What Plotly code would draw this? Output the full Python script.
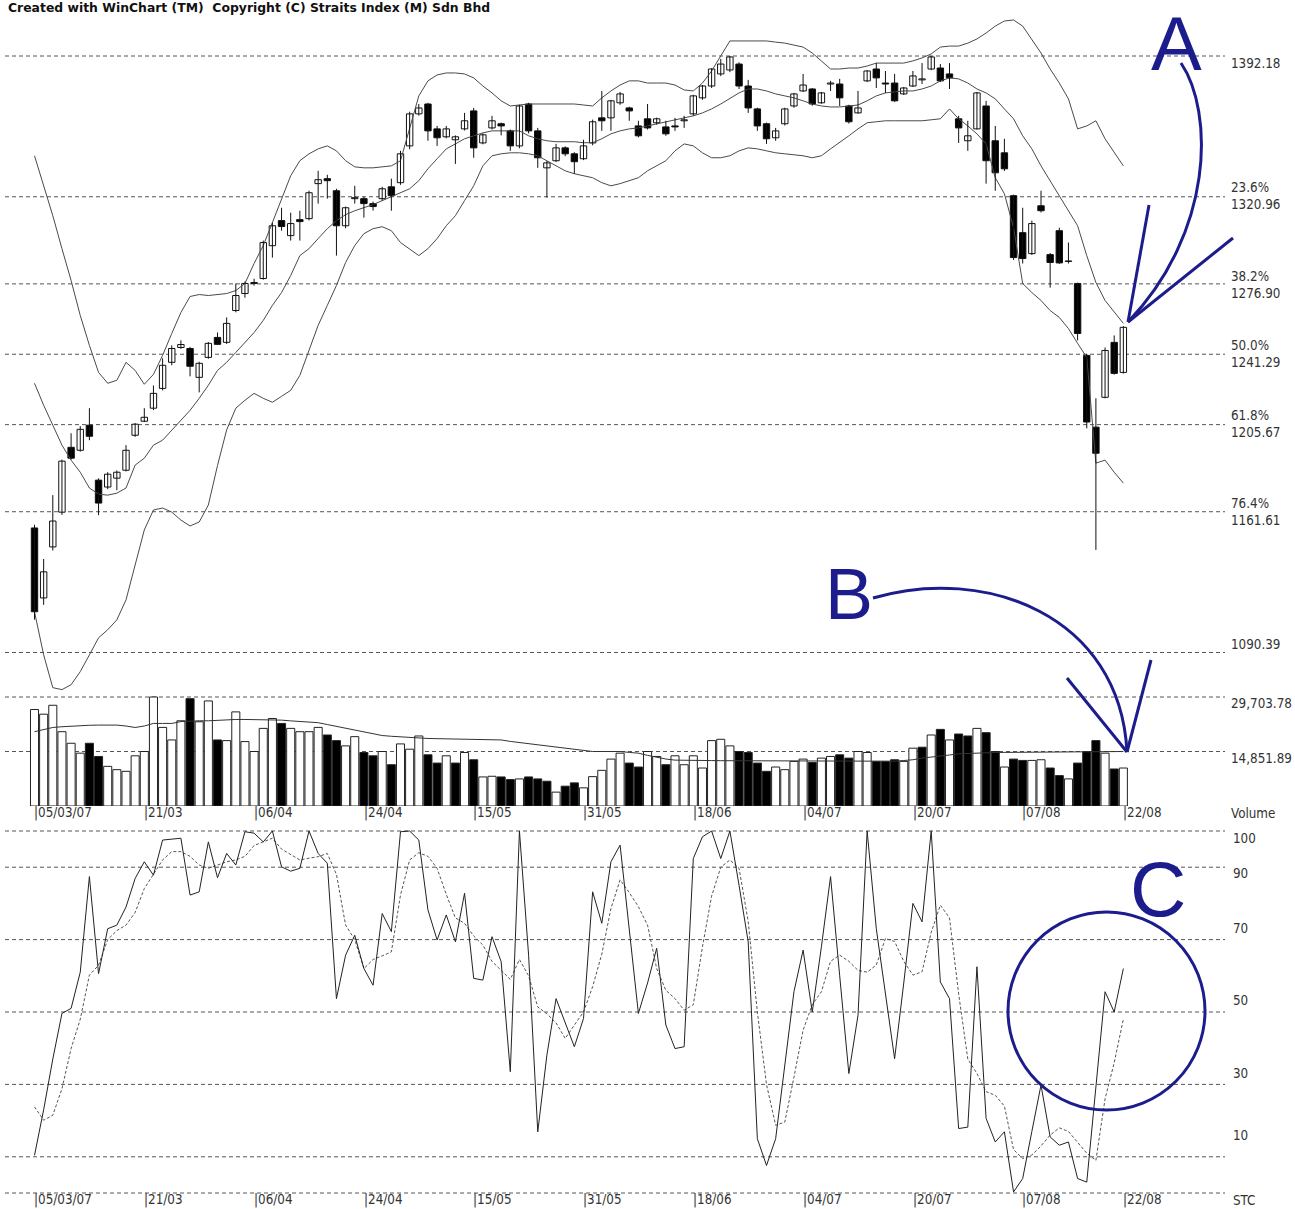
import plotly.graph_objects as go

# ---------------- DATA ----------------
date_idx = [0, 12, 24, 36, 48, 60, 72, 84, 96, 108, 119]
date_labels = ["|05/03/07", "|21/03", "|06/04", "|24/04", "|15/05", "|31/05",
               "|18/06", "|04/07", "|20/07", "|07/08", "|22/08"]

opens = [1153.4, 1118.0, 1143.8, 1161.4, 1194.2, 1192.7, 1205.4, 1177.6, 1174.1, 1178.6,
         1182.6, 1200.3, 1207.4, 1214.0, 1224.0, 1237.2, 1244.7, 1244.2, 1229.6, 1239.7,
         1249.8, 1247.3, 1263.4, 1272.0, 1277.1, 1279.6, 1296.2, 1308.9, 1301.3, 1309.4,
         1309.9, 1327.6, 1330.1, 1324.0, 1306.3, 1320.0, 1320.0, 1317.5, 1320.0, 1326.0,
         1328.1, 1346.7, 1362.9, 1367.9, 1355.3, 1351.3, 1349.8, 1355.3, 1364.4, 1348.2,
         1355.8, 1357.9, 1354.3, 1346.7, 1367.9, 1354.3, 1335.6, 1339.2, 1345.7, 1342.7,
         1340.2, 1348.2, 1360.9, 1360.9, 1368.5, 1365.9, 1356.8, 1360.4, 1358.4, 1356.3,
         1356.8, 1359.4, 1362.9, 1371.0, 1377.0, 1383.1, 1385.1, 1388.1, 1377.0, 1365.4,
         1357.9, 1350.8, 1357.9, 1366.9, 1374.5, 1375.5, 1368.5, 1378.0, 1378.0, 1366.9,
         1363.4, 1379.6, 1385.6, 1378.5, 1378.5, 1373.0, 1377.0, 1380.1, 1385.6, 1386.1,
         1383.1, 1360.4, 1349.3, 1355.3, 1366.9, 1349.3, 1343.2, 1321.5, 1302.8, 1292.2,
         1316.4, 1291.7, 1303.8, 1288.2, 1277.1, 1240.7, 1204.4, 1219.5, 1247.3, 1232.1]
highs = [1155.0, 1137.7, 1170.0, 1188.0, 1201.3, 1204.9, 1214.0, 1178.5, 1181.6, 1182.5,
         1195.3, 1206.5, 1214.0, 1225.5, 1239.2, 1245.8, 1248.3, 1245.0, 1237.5, 1247.5,
         1252.3, 1259.9, 1277.1, 1278.1, 1279.5, 1298.8, 1307.9, 1315.4, 1312.9, 1313.9,
         1324.0, 1334.1, 1332.1, 1325.0, 1316.0, 1326.5, 1321.0, 1318.5, 1326.0, 1330.1,
         1344.2, 1364.0, 1367.9, 1368.5, 1356.8, 1356.8, 1352.0, 1363.4, 1365.9, 1353.0,
         1361.9, 1358.5, 1355.0, 1367.5, 1368.5, 1355.8, 1339.0, 1347.7, 1346.5, 1343.5,
         1349.8, 1360.0, 1374.5, 1370.0, 1374.0, 1366.5, 1359.4, 1367.9, 1361.0, 1359.4,
         1360.9, 1361.9, 1372.5, 1377.5, 1386.0, 1390.7, 1392.2, 1389.0, 1380.1, 1366.0,
         1358.5, 1355.8, 1366.0, 1373.5, 1383.1, 1376.0, 1374.0, 1379.6, 1380.6, 1367.5,
         1374.5, 1385.0, 1388.6, 1384.6, 1383.1, 1376.5, 1384.6, 1388.6, 1392.2, 1388.1,
         1388.6, 1361.9, 1359.4, 1374.0, 1369.5, 1356.8, 1350.3, 1322.0, 1315.4, 1308.9,
         1324.0, 1292.5, 1305.3, 1297.8, 1277.5, 1241.5, 1219.0, 1244.7, 1250.8, 1255.5]
lows = [1107.0, 1114.5, 1142.0, 1160.0, 1188.0, 1192.0, 1197.8, 1159.9, 1173.0, 1172.5,
        1182.0, 1199.5, 1207.0, 1213.0, 1223.0, 1235.7, 1244.0, 1230.1, 1222.0, 1239.0,
        1246.0, 1246.5, 1262.5, 1269.9, 1276.0, 1279.0, 1290.2, 1303.8, 1298.8, 1298.8,
        1309.0, 1317.5, 1320.0, 1291.2, 1305.0, 1317.5, 1310.4, 1314.0, 1319.0, 1313.9,
        1327.0, 1345.0, 1362.0, 1349.3, 1346.7, 1350.5, 1337.6, 1354.5, 1340.7, 1347.5,
        1355.0, 1352.0, 1344.2, 1345.5, 1353.0, 1335.6, 1320.5, 1338.5, 1341.5, 1332.6,
        1339.5, 1347.0, 1354.3, 1354.3, 1367.5, 1359.4, 1351.0, 1355.0, 1357.5, 1351.8,
        1354.3, 1355.8, 1362.0, 1370.0, 1376.0, 1382.0, 1384.0, 1375.5, 1363.4, 1354.3,
        1347.7, 1349.3, 1357.0, 1366.0, 1374.0, 1367.0, 1368.0, 1374.5, 1366.9, 1358.0,
        1363.0, 1379.0, 1376.0, 1373.5, 1369.0, 1372.5, 1376.5, 1378.0, 1385.0, 1379.0,
        1375.5, 1348.2, 1344.2, 1355.0, 1327.6, 1324.0, 1334.0, 1289.0, 1287.2, 1291.5,
        1313.0, 1275.0, 1287.0, 1287.2, 1248.3, 1203.8, 1142.3, 1219.0, 1231.0, 1231.5]
closes = [1111.0, 1131.2, 1156.9, 1187.2, 1188.7, 1203.3, 1199.8, 1166.0, 1180.6, 1181.6,
          1192.7, 1205.9, 1209.4, 1221.5, 1235.7, 1244.2, 1246.2, 1235.2, 1236.7, 1246.8,
          1246.3, 1256.9, 1271.0, 1277.1, 1277.6, 1297.8, 1306.3, 1305.9, 1307.4, 1308.4,
          1323.0, 1329.6, 1329.1, 1306.3, 1315.4, 1320.5, 1317.5, 1316.0, 1325.0, 1321.5,
          1342.7, 1362.9, 1365.9, 1354.3, 1350.8, 1355.3, 1351.3, 1359.4, 1345.7, 1352.3,
          1359.4, 1356.8, 1346.7, 1366.9, 1354.3, 1340.7, 1338.1, 1345.7, 1342.7, 1338.7,
          1346.7, 1358.9, 1359.4, 1369.5, 1373.0, 1364.4, 1351.8, 1355.8, 1360.4, 1352.8,
          1356.3, 1359.9, 1372.0, 1377.0, 1385.6, 1388.1, 1391.7, 1377.0, 1365.9, 1356.8,
          1350.3, 1354.3, 1365.4, 1373.0, 1377.5, 1367.9, 1373.5, 1378.5, 1371.0, 1358.9,
          1365.9, 1384.6, 1381.1, 1378.0, 1369.5, 1376.0, 1382.1, 1380.6, 1391.7, 1379.6,
          1381.1, 1355.8, 1351.8, 1373.5, 1339.2, 1333.1, 1335.1, 1290.2, 1289.7, 1307.4,
          1313.9, 1287.7, 1287.5, 1288.5, 1251.8, 1207.0, 1191.2, 1243.2, 1231.6, 1254.9]

bb_upper = [1341.7, 1326.5, 1311.4, 1294.7, 1278.6, 1260.9, 1245.8, 1232.1, 1226.6, 1228.1,
            1237.2, 1233.1, 1226.1, 1231.1, 1240.7, 1251.8, 1262.4, 1270.5, 1271.5, 1271.0,
            1271.5, 1272.0, 1273.5, 1277.1, 1287.2, 1296.3, 1307.9, 1320.0, 1331.6, 1339.2,
            1342.7, 1345.2, 1346.7, 1344.2, 1339.2, 1336.1, 1335.6, 1335.6, 1336.1, 1336.6,
            1339.2, 1355.3, 1372.0, 1379.6, 1382.6, 1383.6, 1383.6, 1383.1, 1381.1, 1377.0,
            1373.5, 1369.5, 1366.9, 1367.4, 1367.9, 1367.9, 1367.9, 1367.9, 1367.9, 1367.9,
            1367.4, 1366.9, 1371.0, 1374.5, 1377.5, 1379.6, 1379.6, 1378.5, 1378.5, 1378.5,
            1377.5, 1375.0, 1374.5, 1378.5, 1384.6, 1392.2, 1399.8, 1399.8, 1399.8, 1399.8,
            1399.8, 1399.2, 1398.7, 1397.7, 1396.7, 1393.7, 1389.7, 1385.6, 1385.6, 1386.1,
            1386.1, 1387.1, 1388.6, 1388.6, 1388.6, 1388.6, 1389.7, 1391.2, 1393.2, 1396.7,
            1397.2, 1397.2, 1398.7, 1400.8, 1403.8, 1407.3, 1409.9, 1410.4, 1407.3, 1400.8,
            1393.7, 1385.6, 1378.5, 1370.5, 1355.3, 1356.8, 1359.4, 1350.3, 1343.2, 1336.6]
bb_middle = [1226.6, 1215.5, 1205.4, 1195.3, 1187.7, 1181.6, 1173.6, 1170.5, 1170.0, 1171.0,
             1173.6, 1185.2, 1188.7, 1195.3, 1197.8, 1202.8, 1207.9, 1212.9, 1219.0, 1225.6,
             1233.1, 1237.2, 1242.2, 1247.3, 1252.3, 1258.4, 1266.0, 1272.5, 1281.1, 1291.2,
             1294.7, 1299.8, 1304.8, 1308.9, 1311.9, 1313.9, 1315.4, 1317.0, 1319.0, 1321.0,
             1323.0, 1325.0, 1329.1, 1335.1, 1340.2, 1345.2, 1347.7, 1350.3, 1351.8, 1353.3,
             1354.3, 1354.3, 1354.3, 1354.3, 1351.8, 1350.3, 1349.3, 1348.8, 1348.8, 1348.8,
             1348.3, 1348.3, 1350.3, 1352.8, 1354.3, 1355.3, 1355.8, 1356.8, 1357.9, 1358.9,
             1359.9, 1360.9, 1361.9, 1363.4, 1365.4, 1367.9, 1370.5, 1373.5, 1375.5, 1375.5,
             1374.5, 1373.0, 1372.0, 1371.0, 1369.5, 1367.9, 1366.9, 1366.4, 1366.4, 1366.9,
             1367.4, 1369.5, 1372.0, 1373.5, 1374.0, 1374.5, 1374.5, 1375.5, 1377.0, 1379.6,
             1381.1, 1380.6, 1378.5, 1375.5, 1373.5, 1370.5, 1365.4, 1360.4, 1351.8, 1345.2,
             1336.6, 1329.1, 1321.5, 1313.9, 1306.3, 1291.2, 1277.6, 1268.5, 1262.4, 1256.9]
bb_lower = [1111.0, 1089.2, 1072.6, 1071.6, 1074.1, 1080.7, 1089.2, 1097.8, 1101.9, 1106.9,
            1117.0, 1134.7, 1152.4, 1162.5, 1163.5, 1161.4, 1157.4, 1154.4, 1156.4, 1165.0,
            1185.0, 1203.0, 1214.0, 1218.0, 1221.5, 1219.0, 1217.0, 1220.0, 1223.0, 1230.6,
            1243.2, 1255.9, 1266.0, 1276.1, 1287.7, 1296.3, 1302.3, 1304.8, 1305.8, 1303.8,
            1297.8, 1294.7, 1291.2, 1294.7, 1299.8, 1306.3, 1311.4, 1319.0, 1326.5, 1336.6,
            1341.7, 1342.7, 1343.2, 1343.2, 1342.7, 1341.7, 1339.2, 1336.6, 1334.1, 1332.6,
            1331.6, 1330.6, 1328.1, 1326.5, 1327.6, 1329.1, 1330.6, 1334.1, 1336.6, 1339.2,
            1344.2, 1347.7, 1346.7, 1343.2, 1340.7, 1340.7, 1341.7, 1344.2, 1345.7, 1345.2,
            1344.2, 1343.2, 1342.7, 1342.2, 1341.7, 1340.7, 1341.7, 1345.2, 1348.3, 1351.8,
            1355.3, 1358.4, 1358.9, 1359.4, 1359.4, 1359.4, 1359.4, 1359.4, 1359.9, 1360.4,
            1365.4, 1360.4, 1356.8, 1352.8, 1347.7, 1330.6, 1322.5, 1305.3, 1277.1, 1272.5,
            1268.5, 1263.4, 1259.9, 1254.3, 1246.8, 1239.7, 1186.2, 1187.7, 1181.6, 1176.1]

volume = [26290, 25020, 27450, 20250, 17100, 14400, 17100, 13500, 10800, 9900,
          9450, 13680, 14850, 29700, 21420, 18000, 23220, 29250, 22950, 28630,
          18000, 17820, 25650, 17550, 14850, 21150, 23850, 22500, 21150, 20250,
          20250, 21420, 19350, 17820, 16380, 18900, 14580, 13680, 14850, 11250,
          16920, 15480, 19080, 13950, 11700, 13680, 11700, 14580, 12600, 7920,
          8100, 7920, 7200, 7380, 7920, 7380, 6750, 3780, 5400, 6300,
          4950, 8000, 9720, 12780, 14400, 11700, 10620, 14850, 13500, 11250,
          13680, 11250, 13680, 10350, 17820, 18180, 16380, 14850, 14580, 11700,
          9450, 10620, 9900, 12150, 12780, 11880, 13050, 13500, 13950, 13050,
          14850, 14580, 12150, 12150, 12600, 12150, 15750, 16020, 19350, 20880,
          18000, 19620, 19080, 21150, 19980, 14850, 10620, 12780, 12420, 12420,
          12600, 10350, 8280, 7380, 11700, 14850, 17820, 14400, 10080, 10350]
volume_ma = [20250, 20800, 21400, 21600, 21800, 22000, 22000, 22050, 22050, 22050,
             21800, 21400, 21800, 22500, 22500, 22500, 23000, 23200, 23220, 23220,
             23400, 23500, 23580, 23580, 23580, 23580, 23580, 23400, 23200, 23000,
             22950, 22700, 22200, 21700, 21200, 20600, 20000, 19600, 19200, 19000,
             18800, 18600, 18450, 18400, 18350, 18300, 18250, 18200, 18150, 18100,
             18050, 18000, 17600, 17280, 17000, 16700, 16400, 16020, 15700, 15400,
             15000, 14850, 14850, 14850, 14850, 14600, 14400, 13800, 13200, 12800,
             12500, 12420, 12400, 12400, 12380, 12350, 12350, 12350, 12300, 12300,
             12300, 12250, 12250, 12250, 12200, 12200, 12200, 12200, 12150, 12150,
             12150, 12150, 12150, 12150, 12200, 12400, 12600, 13050, 13300, 13500,
             13900, 14220, 14350, 14450, 14550, 14580, 14600, 14620, 14640, 14660,
             14680, 14700, 14720, 14740, 14760, 14780, 14800, 14820, 14840, 14850]

stc_k = [10.4, 23, 37, 49.6, 51, 61, 87.4, 60.6, 73, 74,
         79, 86.9, 91.5, 87.8, 97.5, 97.8, 98, 82.3, 83.2, 97,
         87.1, 93.8, 90.6, 99.8, 99.4, 97, 100, 90.1, 88.9, 89.7,
         100, 93.8, 91.1, 53.7, 65.7, 71.2, 62, 57.4, 77.2, 72.2,
         99.8, 100, 97.5, 78.2, 69.9, 76.8, 69.4, 82.8, 59.3, 58.8,
         70.8, 63.9, 33.5, 100, 65.7, 16.9, 38.1, 53.7, 47, 40.4,
         48.2, 83.2, 74.5, 91.5, 96.1, 72, 49.6, 58, 67.6, 46.4,
         39.9, 40.4, 92.4, 98.4, 100, 92.4, 100, 85, 69.4, 15,
         7.6, 15, 35, 55.6, 67.1, 50, 68, 87.4, 60, 33,
         49.1, 100, 73, 55, 37.1, 58, 80, 74.9, 100, 58.3,
         53.7, 17.8, 18.2, 62.5, 20.6, 14.1, 16.9, 0.3, 4, 17,
         29.8, 15.5, 13.2, 14.1, 4, 3, 30, 55.6, 50, 62]
stc_d = [23.8, 20.1, 21.5, 28.8, 39.9, 48, 60.2, 62.9, 70, 72.5,
         74, 77.5, 84.1, 88, 92, 94.3, 94.3, 93, 90.6, 89.7,
         90.5, 91.5, 92, 93, 96, 97, 98, 95, 93.5, 92,
         92.5, 92.9, 93.8, 88, 74, 70, 62, 64.5, 65.5, 66.6,
         82.3, 92, 94, 93, 89.7, 82.5, 76, 74.5, 71, 68.5,
         64, 61.5, 59, 64.5, 60, 51.4, 49.5, 47, 42.7, 46.4,
         50, 57, 66, 78.6, 86.5, 83, 79.1, 74, 62, 56,
         53.7, 50.5, 52, 68, 82, 90, 92, 89.7, 75, 50,
         30, 18.7, 19.6, 32, 45, 52, 55.6, 64, 65.7, 64,
         61.5, 61, 63, 70.3, 69.5, 64, 60.2, 61.1, 72, 79.5,
         76, 55, 37, 33, 28, 27, 24, 12, 9.5, 10.5,
         13, 16, 18, 17, 14, 11, 9, 26, 36, 48]

fib_levels = [1392.18, 1320.96, 1276.90, 1241.29, 1205.67, 1161.61, 1090.39]
fib_pct = ["", "23.6%", "38.2%", "50.0%", "61.8%", "76.4%", ""]
vol_levels = [29703.78, 14851.89]
vol_level_labels = ["29,703.78", "14,851.89"]
stc_levels = [100, 90, 70, 50, 30, 10, 0]
stc_tick_labels = ["100", "90", "70", "50", "30", "10"]

# ---------------- LAYOUT GEOMETRY ----------------
W, H = 1295, 1209           # figure fills the whole window (body margin removed)
OX, OY = 0, 0


def fx(X):
    return (X - OX) / W


def fy(Y):
    return 1 - (Y - OY) / H


# x calibration: candle i centre at pixel 34.5 + 9.15*i
def xv(X):
    return (X - 34.5) / 9.15


# price calibration: 1392.18 at Y=56, 1090.39 at Y=652.5
def pv(Y):
    return 1392.18 - (Y - 56) * (1392.18 - 1090.39) / (652.5 - 56)


# volume calibration: 0 at Y=806, 29703.78 at Y=697
def vv(Y):
    return (806 - Y) * 29703.78 / (806 - 697)


# STC calibration: 100 at Y=831, 0 at Y=1193
def sv(Y):
    return (1193 - Y) * 100 / (1193 - 831)


N = len(closes)
idx = list(range(N))
XR = [xv(0), xv(1225)]
XD = [0, fx(1225)]

fig = go.Figure()

# Bollinger bands
for band in (bb_upper, bb_middle, bb_lower):
    fig.add_trace(go.Scatter(x=idx, y=band, mode="lines",
                             line=dict(color="#4a4a4a", width=1),
                             hoverinfo="skip", xaxis="x", yaxis="y"))

# wicks
wx, wy = [], []
for i in idx:
    wx += [i, i, None]
    wy += [lows[i], highs[i], None]
fig.add_trace(go.Scatter(x=wx, y=wy, mode="lines", line=dict(color="#111", width=1),
                         hoverinfo="skip", xaxis="x", yaxis="y"))

# candle bodies
base = [min(o, c) for o, c in zip(opens, closes)]
hgt = [max(abs(c - o), 0.3) for o, c in zip(opens, closes)]
bcol = ["white" if c >= o else "black" for o, c in zip(opens, closes)]
fig.add_trace(go.Bar(x=idx, y=hgt, base=base, width=0.7,
                     marker=dict(color=bcol, line=dict(color="#111", width=1)),
                     xaxis="x", yaxis="y", hoverinfo="skip"))

# volume
vcol = ["white"] + ["white" if closes[i] >= closes[i - 1] else "black" for i in range(1, N)]
fig.add_trace(go.Bar(x=idx, y=volume, width=0.88,
                     marker=dict(color=vcol, line=dict(color="#222", width=1)),
                     xaxis="x2", yaxis="y2", hoverinfo="skip"))
fig.add_trace(go.Scatter(x=idx, y=volume_ma, mode="lines",
                         line=dict(color="#333", width=1),
                         xaxis="x2", yaxis="y2", hoverinfo="skip"))

# STC
fig.add_trace(go.Scatter(x=idx, y=stc_d, mode="lines",
                         line=dict(color="#555", width=1, dash="3px,2px"),
                         xaxis="x3", yaxis="y3", hoverinfo="skip"))
fig.add_trace(go.Scatter(x=idx, y=stc_k, mode="lines",
                         line=dict(color="#222", width=1),
                         xaxis="x3", yaxis="y3", hoverinfo="skip"))

shapes = []
grid = dict(color="#555", width=1, dash="4px,3px")
for lv in fib_levels:
    shapes.append(dict(type="line", xref="paper", yref="y", x0=fx(5), x1=fx(1225),
                       y0=lv, y1=lv, line=grid, layer="below"))
for lv in vol_levels:
    shapes.append(dict(type="line", xref="paper", yref="y2", x0=fx(5), x1=fx(1225),
                       y0=lv, y1=lv, line=grid, layer="below"))
for lv in stc_levels:
    shapes.append(dict(type="line", xref="paper", yref="y3", x0=fx(5), x1=fx(1225),
                       y0=lv, y1=lv, line=grid, layer="below"))

NAVY = "#1c1c8c"
blue = dict(color=NAVY, width=3)


def path(points, cmd="C"):
    p = [f"{fx(X):.5f},{fy(Y):.5f}" for X, Y in points]
    return f"M {p[0]} {cmd} " + " ".join(p[1:])


# arrow A
shapes.append(dict(type="path", xref="paper", yref="paper",
                   path=path([(1181, 63), (1214, 112), (1214, 232), (1128, 322)]), line=blue))
shapes.append(dict(type="line", xref="paper", yref="paper", x0=fx(1128), y0=fy(322),
                   x1=fx(1149), y1=fy(205), line=blue))
shapes.append(dict(type="line", xref="paper", yref="paper", x0=fx(1128), y0=fy(322),
                   x1=fx(1233), y1=fy(238), line=blue))
# arrow B
shapes.append(dict(type="path", xref="paper", yref="paper",
                   path=path([(873, 598), (985, 565), (1120, 615), (1127, 752)]), line=blue))
shapes.append(dict(type="line", xref="paper", yref="paper", x0=fx(1127), y0=fy(752),
                   x1=fx(1067), y1=fy(678), line=blue))
shapes.append(dict(type="line", xref="paper", yref="paper", x0=fx(1127), y0=fy(752),
                   x1=fx(1151), y1=fy(660), line=blue))
# circle C
shapes.append(dict(type="circle", xref="paper", yref="paper", x0=fx(1008), x1=fx(1205),
                   y0=fy(1110), y1=fy(912), line=blue))

annotations = []
LBL = dict(family="Liberation Sans Narrow, Arial Narrow, DejaVu Sans Condensed, sans-serif",
           size=13.3, color="#333")


def lab(text, X, Y, xanchor="left", font=LBL):
    annotations.append(dict(text=text, x=fx(X), y=fy(Y), xref="paper", yref="paper",
                            xanchor=xanchor, yanchor="middle", align="left",
                            showarrow=False, font=font))


# right-hand labels
fib_label_y = [63, 196, 285, 354, 424, 512, 644]
for lv, pct, Y in zip(fib_levels, fib_pct, fib_label_y):
    txt = f"{lv:.2f}" if not pct else f"{pct}<br>{lv:.2f}"
    lab(txt, 1229, Y)
for t, Y in zip(vol_level_labels, [703, 758]):
    lab(t, 1229, Y)
lab("Volume", 1229, 813)
for t, Y in zip(stc_tick_labels, [838, 873, 928, 1000, 1073, 1135]):
    lab(t, 1231, Y)
lab("STC", 1231, 1200)

# date labels (volume panel and STC panel)
for i, t in zip(date_idx, date_labels):
    for Y in (813, 1200):
        annotations.append(dict(text=t, x=i - 0.25, y=fy(Y), xref="x", yref="paper",
                                xanchor="left", yanchor="middle", showarrow=False, font=LBL))

# header
annotations.append(dict(text="<b>Created with WinChart (TM)  Copyright (C) Straits Index (M) Sdn Bhd</b>",
                        x=fx(6), y=fy(7), xref="paper", yref="paper", xanchor="left",
                        yanchor="middle", showarrow=False,
                        font=dict(family="DejaVu Sans, Liberation Sans, sans-serif",
                                  size=12.4, color="#111")))

# big letters
BIG = dict(family="Liberation Sans, Arial, sans-serif", color=NAVY)
lab("A", 1176, 43, "center", dict(BIG, size=76))
lab("B", 849, 594, "center", dict(BIG, size=72))
lab("C", 1158, 889, "center", dict(BIG, size=78))

ax_common = dict(showgrid=False, zeroline=False, showticklabels=False, showline=False,
                 ticks="", fixedrange=True)
fig.update_layout(
    width=W, height=H, autosize=False,
    margin=dict(l=0, r=0, t=0, b=0, pad=0),
    paper_bgcolor="white", plot_bgcolor="white",
    showlegend=False, barmode="overlay", bargap=0,
    xaxis=dict(ax_common, domain=XD, range=XR, anchor="y"),
    xaxis2=dict(ax_common, domain=XD, range=XR, anchor="y2"),
    xaxis3=dict(ax_common, domain=XD, range=XR, anchor="y3"),
    yaxis=dict(ax_common, domain=[fy(692), fy(10)], range=[pv(692), pv(10)], anchor="x"),
    yaxis2=dict(ax_common, domain=[fy(806), fy(693)], range=[0, vv(693)], anchor="x2"),
    yaxis3=dict(ax_common, domain=[fy(1208), fy(820)], range=[sv(1208), sv(820)], anchor="x3"),
    shapes=shapes, annotations=annotations,
)

fig.write_html("out.html", config={"displayModeBar": False, "staticPlot": True},
               post_script="document.body.style.margin='0';document.body.style.overflow='hidden';")
